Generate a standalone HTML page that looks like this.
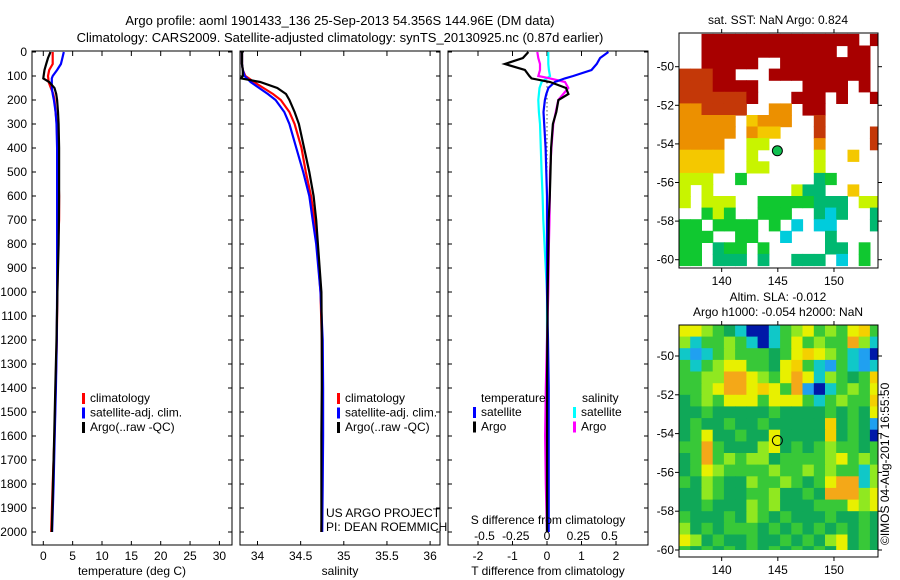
<!DOCTYPE html>
<html><head><meta charset="utf-8"><style>
html,body{margin:0;padding:0;background:#fff;}
svg{display:block;font-family:"Liberation Sans",Arial,sans-serif;font-size:12px;}
</style></head><body>
<svg id="fig" width="900" height="580" viewBox="0 0 900 580" xmlns="http://www.w3.org/2000/svg">
<text x="340" y="25" text-anchor="middle" font-size="13">Argo profile: aoml 1901433_136 25-Sep-2013 54.356S 144.96E (DM data)</text>
<text x="340" y="42" text-anchor="middle" font-size="13">Climatology: CARS2009. Satellite-adjusted climatology: synTS_20130925.nc (0.87d earlier)</text>
<text x="778" y="24" text-anchor="middle">sat. SST: NaN Argo: 0.824</text>
<text x="778" y="301" text-anchor="middle">Altim. SLA: -0.012</text>
<text x="778" y="316" text-anchor="middle">Argo h1000: -0.054 h2000: NaN</text>
<text transform="translate(889,545) rotate(-90)">©IMOS 04-Aug-2017 16:55:50</text>
<g id="plots"></g>
</svg>
<script>
// ---------- profile data ----------
const depthLevels = [0,25,50,75,100,110,125,150,175,200,250,300,400,500,600,700,800,1000,1200,1400,1600,1800,2000];
const tempArgo = [1.23,0.8,0.5,0.2,0.05,0.0,1.0,1.9,2.2,2.35,2.5,2.6,2.7,2.7,2.7,2.65,2.6,2.4,2.25,2.05,1.85,1.65,1.45];
const tempClim = [1.6,1.6,1.6,1.0,0.8,0.85,0.9,1.3,1.7,1.9,2.1,2.3,2.4,2.55,2.7,2.7,2.5,2.4,2.3,2.1,1.9,1.6,1.35];
const tempSat  = [3.5,3.25,3.0,2.35,1.6,1.45,1.45,1.45,1.6,1.8,2.1,2.25,2.35,2.35,2.35,2.35,2.35,2.35,2.3,2.15,1.95,1.75,1.5];
const salArgo = [33.82,33.82,33.82,33.83,33.83,33.81,34.03,34.23,34.33,34.37,34.43,34.48,34.54,34.60,34.65,34.68,34.70,34.74,34.745,34.745,34.74,34.74,34.74];
const salClim = [33.82,33.82,33.82,33.83,33.86,33.90,33.96,34.07,34.18,34.27,34.37,34.43,34.51,34.56,34.62,34.66,34.69,34.73,34.745,34.75,34.75,34.75,34.74];
const salSat  = [33.82,33.82,33.82,33.83,33.85,33.88,33.92,34.02,34.12,34.21,34.31,34.37,34.45,34.53,34.60,34.64,34.68,34.73,34.755,34.76,34.76,34.755,34.75];
const dTArgo = [-0.54,-0.7,-1.22,-0.64,-0.51,-0.45,0.09,0.55,0.62,0.33,0.27,0.17,0.12,0.1,0.08,0.05,0.04,0.02,0.01,0.0,0.0,0.0,0.0];
const dTSat  = [1.78,1.54,1.44,1.29,0.76,0.52,0.23,0.04,-0.02,-0.06,-0.1,-0.08,-0.04,-0.02,0.0,0.0,0.0,0.0,0.03,0.05,0.05,0.05,0.05];
const dSArgo = [-0.078,-0.07,-0.056,-0.056,-0.07,0.024,0.144,0.17,0.13,0.09,0.07,0.05,0.035,0.024,0.022,0.02,0.015,0.01,0.0,-0.01,-0.015,-0.01,0.0];
const dSSat  = [0.01,0.01,0.01,0.015,0.024,0.0,-0.043,-0.06,-0.065,-0.07,-0.065,-0.056,-0.05,-0.043,-0.035,-0.03,-0.02,0.0,0.0,-0.005,0.0,0.0,0.0];
const depthTicks = [0,100,200,300,400,500,600,700,800,900,1000,1100,1200,1300,1400,1500,1600,1700,1800,1900,2000];
const tempTicks = [0,5,10,15,20,25,30];
const salTicks = [34,34.5,35,35.5,36];
const dTTicks = [-2,-1,0,1,2];
const dSTicks = [-0.5,-0.25,0,0.25,0.5];
const dSTickLabels = ["-0.5","-0.25","0","0.25","0.5"];
// ---------- map data ----------
const sstGrid = [
"..dddddddddddddd.d",
"..dddddddddddd.dd.",
"..ddddd..dddddddd.",
"rrrdd...ddddddddd.",
"rrrdddd....dddd.d.",
"rrrrrrd...ddd.d..d",
"oorrrr..oo.dd.....",
"ooooo.yooo..r.....",
"ooooo.oyy...r....r",
"oooo..ll....o....r",
"yyyy..l.....l..y..",
"yyyy..ll....l.....",
"lll..g......tg....",
"l.l.......ltt..y..",
"l.lll..gggggttt.ll",
"..glg..ggg..tct..t",
"gg.gggg.g.c.cc...t",
"ggg..gg..c...t....",
"gg.tgg.g.....tt.g.",
"gg.ttt.t..ttt.c.g."];
const slaGrid = [
"yylgtcBBcglyglgyog",
"lcgglgcBcgyglggOlc",
"cbcglgggtgyoylgcbB",
"gcglyyggtyogcbgcbc",
"ggllOOylgyOyclgtgo",
"gglyOOyoygObBcglgy",
"tglgyyygyyygcglggo",
"ttgtttttgttttgtgty",
"tgttgttgtttttotgtb",
"tgyttgttyttttotgtB",
"ggOgtttlytgtglggtg",
"tgOglglltgggglyglg",
"tgylgggglgglglggcl",
"gtlgttlgglgtgyOOcl",
"ttlgttgglttgtOOOly",
"ttgtttlgltttgggyly",
"gtttgtlgtgtttgttgt",
"ltgtgggtgtgtgtgtgt",
"yltgttgttgtgtlytgt",
"gtgtgtgtgtgtgtytgt"];
const latTicks = [-50,-52,-54,-56,-58,-60];
const lonTicks = [140,145,150];
const argoLon = 144.96, argoLat = -54.356;

const NS="http://www.w3.org/2000/svg";
const root=document.getElementById('plots');
function mk(tag,attrs,parent){const e=document.createElementNS(NS,tag);for(const k in attrs)e.setAttribute(k,attrs[k]);(parent||root).appendChild(e);return e;}
function txt(x,y,s,anchor,parent){const t=mk('text',{x:x,y:y,'text-anchor':anchor||'start'},parent);t.textContent=s;return t;}

const TOP=52, BOT=545, DSC=0.24;
const yD=d=>TOP+d*DSC;

function panel(name,x0,x1){
  const g=mk('g',{});
  
  
  const r=mk('rect',{x:x0,y:TOP-1,width:x1-x0,height:BOT-TOP+1,fill:'none',stroke:'#000','stroke-width':1},g);
  
  
  depthTicks.forEach(d=>{
    mk('line',{x1:x0,x2:x0+4,y1:yD(d),y2:yD(d),stroke:'#000'},g);
    mk('line',{x1:x1-4,x2:x1,y1:yD(d),y2:yD(d),stroke:'#000'},g);
  });
  return g;
}
function xticks(g,ticks,fx,labels,ly){
  ticks.forEach((v,i)=>{
    const x=fx(v);
    mk('line',{x1:x,x2:x,y1:TOP-1,y2:TOP+4,stroke:'#000'},g);
    mk('line',{x1:x,x2:x,y1:BOT-4,y2:BOT,stroke:'#000'},g);
    const t=txt(x,ly,labels?labels[i]:String(v),'middle',g);
    
    
  });
}
function line(g,xs,fx,color,name,w){
  const pts=xs.map((v,i)=>fx(v).toFixed(1)+','+yD(depthLevels[i]).toFixed(1)).join(' ');
  const p=mk('polyline',{points:pts,fill:'none',stroke:color,'stroke-width':w||2.2,'stroke-linejoin':'miter'},g);
  
  
}
function legend(g,x,y,items){
  items.forEach((it,i)=>{
    const yy=y+i*14.5;
    mk('rect',{x:x,y:yy-9,width:3,height:11,fill:it[1]},g);
    const t=txt(x+8,yy,it[0],'start',g);
    
    
  });
}

// panel 1
const fT=v=>43.3+v*5.87;
const p1=panel('temperature-panel',32,232);
depthTicks.forEach(d=>{const t=txt(27,yD(d)+4,String(d),'end',p1);
  
  });
xticks(p1,tempTicks,fT,null,560);
line(p1,tempClim,fT,'#f00','temp-climatology-line');
line(p1,tempSat,fT,'#00f','temp-satellite-line');
line(p1,tempArgo,fT,'#000','temp-argo-line');
legend(p1,82,402,[['climatology','#f00'],['satellite-adj. clim.','#00f'],['Argo(..raw -QC)','#000']]);
let t=txt(132,575,'temperature (deg C)','middle',p1);
 

// panel 2
const fS=v=>257.5+(v-34)*86.3;
const p2=panel('salinity-panel',240,440);
xticks(p2,salTicks,fS,null,560);
line(p2,salClim,fS,'#f00','sal-climatology-line');
line(p2,salSat,fS,'#00f','sal-satellite-line');
line(p2,salArgo,fS,'#000','sal-argo-line');
legend(p2,337,402,[['climatology','#f00'],['satellite-adj. clim.','#00f'],['Argo(..raw -QC)','#000']]);
t=txt(340,575,'salinity','middle',p2);
 
t=txt(326,517,'US ARGO PROJECT','start',p2);
 
t=txt(326,531,'PI: DEAN ROEMMICH','start',p2);
 

// panel 3
const fdT=v=>547+v*34.5;
const fdS=v=>547+v*125;
const p3=panel('difference-panel',448,648);
xticks(p3,dTTicks,fdT,null,560);
dSTicks.forEach((v,i)=>{const x=fdS(v);const tt=txt(x,540,dSTickLabels[i],'middle',p3);
  
  });
mk('line',{x1:fdT(0),x2:fdT(0),y1:yD(110),y2:yD(600),stroke:'#000','stroke-dasharray':'1,3'},p3);
line(p3,dSSat,fdS,'#0ff','s-diff-satellite-line');
line(p3,dSArgo,fdS,'#f0f','s-diff-argo-line');
line(p3,dTSat,fdT,'#00f','t-diff-satellite-line');
line(p3,dTArgo,fdT,'#000','t-diff-argo-line');
t=txt(481,402,'temperature','start',p3);  
t=txt(582,402,'salinity','start',p3);  
legend(p3,473,416,[['satellite','#00f'],['Argo','#000']]);
legend(p3,573,416,[['satellite','#0ff'],['Argo','#f0f']]);
t=txt(548,524,'S difference from climatology','middle',p3);
 
t=txt(548,575,'T difference from climatology','middle',p3);
 

// maps
const sstColors={d:'#a80000',r:'#c43808',o:'#ec9000',y:'#f4c800',l:'#c8f400',g:'#10c830',t:'#00b870',c:'#00ccdc'};
const slaColors={B:'#0018a8',b:'#20a0f0',c:'#10c8c8',t:'#10a858',g:'#38c838',l:'#90e820',y:'#e8f000',o:'#f4d000',O:'#f4a818'};
const LX0=136.2, LPX=11.23, MX0=679, MX1=878;
const fLon=l=>MX0+(l-LX0)*LPX;
function map(name,grid,colors,top,bot,lat50y,latPx,dataBot,lat0,marker){
  const g=mk('g',{});
  
  
  const fLat=la=>lat50y+(-50-la)*latPx;
  const clipId=name+'-clip';
  const cp=mk('clipPath',{id:clipId},g);
  mk('rect',{x:MX0,y:top,width:MX1-MX0,height:dataBot-top},cp);
  const cells=mk('g',{'clip-path':'url(#'+clipId+')'},g);
  grid.forEach((row,r)=>{
    for(let c=0;c<row.length;c++){
      const ch=row[c]; if(!colors[ch]) continue;
      const x=fLon(LX0+c), y=fLat(lat0-0.6*r);
      const rc=mk('rect',{x:x.toFixed(1),y:y.toFixed(1),width:(LPX+0.6).toFixed(1),height:(0.6*latPx+0.6).toFixed(1),fill:colors[ch]},cells);
      
      
    }
  });
  mk('rect',{x:MX0,y:top,width:MX1-MX0,height:bot-top,fill:'none',stroke:'#000'},g);
  latTicks.forEach(la=>{const y=fLat(la);
    mk('line',{x1:MX0-4,x2:MX0,y1:y,y2:y,stroke:'#000'},g);
    mk('line',{x1:MX1,x2:MX1+4,y1:y,y2:y,stroke:'#000'},g);
    const tt=txt(MX0-5,y+4,String(la),'end',g);
    
    });
  lonTicks.forEach(lo=>{const x=fLon(lo);
    mk('line',{x1:x,x2:x,y1:bot,y2:bot+4,stroke:'#000'},g);
    mk('line',{x1:x,x2:x,y1:top-4,y2:top,stroke:'#000'},g);
    const tt=txt(x,bot+17,String(lo),'middle',g);
    
    });
  const m=mk('circle',{cx:fLon(argoLon),cy:fLat(argoLat),r:5,fill:marker,stroke:'#000','stroke-width':1},g);
  
  
}
map('sst-map',sstGrid,sstColors,33,268,66.7,19.3,268,-48.3,'#10c050');
map('sla-map',slaGrid,slaColors,325,557,356,19.4,550,-48.4,'none');
</script>
</body></html>
